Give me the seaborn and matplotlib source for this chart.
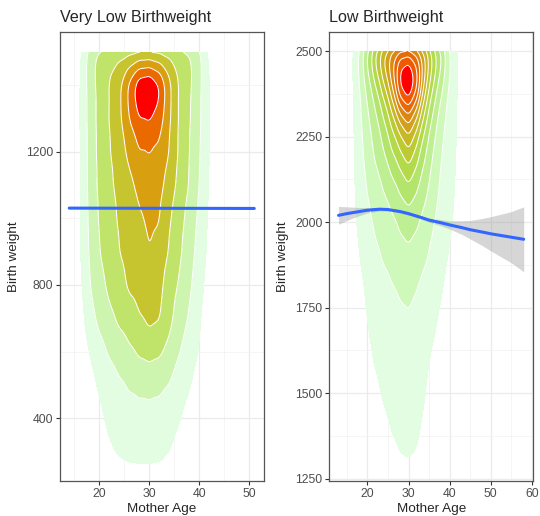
import numpy as np
import pandas as pd
import matplotlib
matplotlib.use("Agg")
import matplotlib.pyplot as plt
from matplotlib.colors import ListedColormap, BoundaryNorm
from matplotlib.ticker import MultipleLocator
import seaborn as sns
from seaborn._statistics import KDE

sns.set_theme(style="whitegrid")
plt.rcParams["font.family"] = ["Liberation Sans", "DejaVu Sans"]

# ---- very low birthweight: relative density (rows = weight, cols = age)
vlbw_age = [16, 18, 20, 22, 24, 26, 28, 30, 32, 34, 36, 38, 40, 42]
vlbw_weight = [300, 400, 500, 600, 700, 800, 900, 1000, 1100, 1200, 1300, 1400, 1500]
vlbw_density = [
    [0.0, 0.1, 0.45, 0.9, 1.3, 1.55, 1.65, 1.65, 1.55, 1.1, 0.65, 0.3, 0.1, 0.0],
    [0.0, 0.3, 0.8, 1.2, 1.45, 1.65, 1.7, 1.7, 1.65, 1.4, 1.05, 0.6, 0.2, 0.0],
    [0.1, 0.6, 1.1, 1.5, 1.8, 2.05, 2.15, 2.2, 2.15, 1.95, 1.5, 1.1, 0.5, 0.1],
    [0.2, 1.0, 1.6, 2.1, 2.5, 2.8, 3.2, 3.4, 3.2, 2.7, 2.0, 1.5, 1.0, 0.2],
    [0.4, 1.6, 2.3, 2.8, 3.2, 3.5, 3.9, 4.3, 4.2, 3.3, 2.6, 1.9, 1.1, 0.3],
    [0.6, 2.0, 2.7, 3.2, 3.7, 4.2, 4.4, 4.6, 4.3, 3.4, 2.9, 2.2, 1.4, 0.5],
    [0.8, 2.1, 3.0, 3.5, 4.0, 4.3, 4.7, 5.0, 4.8, 3.9, 3.2, 2.4, 1.7, 0.7],
    [0.8, 2.2, 3.1, 3.6, 4.1, 4.4, 4.8, 5.2, 5.1, 4.0, 3.4, 2.6, 1.8, 0.8],
    [0.8, 2.3, 3.2, 3.8, 4.3, 4.7, 5.3, 5.5, 5.3, 4.6, 3.7, 3.0, 2.0, 0.9],
    [0.8, 2.3, 3.3, 3.9, 4.5, 5.2, 5.9, 5.9, 5.8, 5.0, 3.8, 3.0, 2.1, 1.0],
    [0.8, 2.4, 3.3, 4.0, 4.7, 6.0, 6.9, 7.0, 6.5, 5.1, 3.8, 3.1, 2.2, 1.0],
    [0.8, 2.4, 3.3, 4.0, 4.8, 6.5, 8.5, 8.8, 7.7, 5.4, 3.8, 3.2, 2.2, 1.0],
    [0.6, 2.8, 3.6, 3.85, 3.85, 3.85, 3.9, 3.9, 3.85, 3.85, 3.7, 3.4, 2.6, 0.7],
]

# ---- low birthweight
lbw_age = [16, 18, 20, 22, 24, 26, 28, 30, 32, 34, 36, 38, 40, 42, 44]
lbw_weight = [1300, 1400, 1500, 1600, 1700, 1800, 1900, 2000, 2100, 2200, 2300, 2400, 2500]
lbw_density = [
    [0.0, 0.0, 0.0, 0.2, 0.5, 0.8, 1.05, 1.15, 1.0, 0.6, 0.2, 0.0, 0.0, 0.0, 0.0],
    [0.0, 0.0, 0.2, 0.5, 0.85, 1.05, 1.15, 1.2, 1.1, 0.9, 0.5, 0.2, 0.0, 0.0, 0.0],
    [0.0, 0.1, 0.5, 0.85, 1.1, 1.25, 1.35, 1.4, 1.3, 1.02, 0.6, 0.3, 0.1, 0.0, 0.0],
    [0.0, 0.3, 0.85, 1.1, 1.25, 1.4, 1.5, 1.6, 1.45, 1.2, 0.85, 0.5, 0.2, 0.0, 0.0],
    [0.0, 0.5, 1.02, 1.2, 1.4, 1.55, 1.7, 1.8, 1.6, 1.4, 1.15, 0.8, 0.4, 0.1, 0.0],
    [0.1, 0.7, 1.15, 1.4, 1.6, 1.85, 2.1, 2.3, 1.95, 1.6, 1.4, 1.05, 0.6, 0.2, 0.0],
    [0.2, 1.0, 1.4, 1.8, 2.15, 2.4, 2.65, 2.8, 2.55, 2.15, 1.75, 1.35, 0.9, 0.4, 0.0],
    [0.5, 1.25, 1.75, 2.2, 2.45, 2.7, 3.1, 3.4, 3.1, 2.6, 2.0, 1.6, 1.2, 0.7, 0.0],
    [0.6, 1.4, 2.05, 2.5, 3.0, 3.55, 4.1, 4.8, 4.05, 3.3, 2.6, 1.75, 1.3, 0.8, 0.1],
    [0.6, 1.55, 2.45, 3.2, 3.85, 4.8, 5.6, 6.8, 5.4, 4.0, 2.85, 1.95, 1.45, 0.9, 0.1],
    [0.6, 1.7, 2.75, 3.6, 4.7, 6.25, 7.85, 9.3, 7.4, 5.2, 3.6, 2.35, 1.5, 0.9, 0.1],
    [0.6, 1.85, 3.25, 4.7, 6.7, 8.9, 13.4, 14.4, 12.4, 7.4, 4.8, 3.15, 1.75, 0.95, 0.1],
    [0.7, 2.4, 4.9, 7.4, 9.5, 11.0, 11.6, 11.8, 10.8, 9.3, 6.7, 4.9, 2.3, 1.1, 0.1],
]

# ---- smoothers
vlbw_fit_age = [14, 51]
vlbw_fit = [1031, 1030]

lbw_fit_age = [13, 15, 18, 20, 23, 25, 28, 30, 33, 35, 38, 40, 43, 45, 48, 50, 53, 55, 58]
lbw_fit = [2020, 2025, 2031, 2035, 2038, 2037, 2031, 2025, 2014, 2006, 1998, 1992,
           1984, 1978, 1971, 1966, 1960, 1956, 1950]
lbw_fit_lo = [1994, 2005, 2019, 2027, 2033, 2033, 2027, 2021, 2009, 2000, 1989, 1980,
              1964, 1951, 1931, 1916, 1895, 1881, 1855]
lbw_fit_hi = [2046, 2045, 2043, 2043, 2043, 2041, 2035, 2029, 2019, 2012, 2007, 2004,
              2004, 2005, 2011, 2016, 2025, 2031, 2045]

vlbw_colors = ["#e3fde3", "#cdf5b0", "#c0e46a", "#c7c52f", "#d8a010", "#ea6a00", "#ff0000"]
lbw_colors = ["#e3fde3", "#cff8bb", "#bef093", "#b3e56c", "#b2da4a", "#bccb32",
              "#c7b826", "#d2a01a", "#dc870f", "#e66a06", "#f25800", "#ff0000"]


def long_table(ages, weights, dens):
    rows = []
    for w, row in zip(weights, dens):
        for a, d in zip(ages, row):
            rows.append((a, w, d))
    return pd.DataFrame(rows, columns=["age", "bwt", "n"])


def height_levels(df, bw, clip, cell, n):
    # contour heights at 1, 2, ... table units (like ggplot bins) -> seaborn iso-proportions
    kde = KDE(bw_method=bw, clip=clip)
    dens, _ = kde(df["age"].to_numpy(float), df["bwt"].to_numpy(float),
                  weights=df["n"].to_numpy(float))
    vals = dens.ravel()
    unit = min(1.0 / (df["n"].sum() * cell), vals.max() / (n + 0.45))
    heights = [k * unit for k in range(1, n + 1)]
    props = [vals[vals < h].sum() / vals.sum() for h in heights]
    return props + [1.0], heights + [vals.max() * 1.01]


def density_panel(ax, df, colors, bw, clip, cell):
    lv, hs = height_levels(df, bw, clip, cell, len(colors))
    norm = BoundaryNorm(hs, len(colors))
    sns.kdeplot(data=df, x="age", y="bwt", weights="n", fill=True, levels=lv,
                cmap=ListedColormap(colors), norm=norm, bw_method=bw, clip=clip, ax=ax)
    sns.kdeplot(data=df, x="age", y="bwt", weights="n", levels=lv[1:-1],
                color="white", linewidths=0.75, bw_method=bw, clip=clip, ax=ax)


def style(ax, title, xlim, ylim, yticks, ystep):
    ax.set_xlim(*xlim)
    ax.set_ylim(*ylim)
    ax.set_yticks(yticks)
    ax.xaxis.set_major_locator(MultipleLocator(10))
    ax.xaxis.set_minor_locator(MultipleLocator(5))
    ax.yaxis.set_minor_locator(MultipleLocator(ystep / 2))
    ax.set_axisbelow(True)
    ax.grid(which="major", color="#ebebeb", linewidth=0.9)
    ax.grid(which="minor", color="#f2f2f2", linewidth=0.5)
    ax.tick_params(which="minor", length=0)
    ax.tick_params(which="major", length=3, width=0.8, color="#333333",
                   labelsize=8.8, labelcolor="#4d4d4d", pad=2,
                   bottom=True, left=True)
    for s in ax.spines.values():
        s.set_color("#555555")
        s.set_linewidth(0.9)
    ax.set_title(title, loc="left", fontsize=11.6, pad=7)
    ax.set_xlabel("Mother Age", fontsize=9.7, labelpad=2)
    ax.set_ylabel("Birth weight", fontsize=9.7, labelpad=4)


fig = plt.figure(figsize=(5.4, 5.16), dpi=100)
ax1 = fig.add_axes([0.1111, 0.0678, 0.3769, 0.8707])
ax2 = fig.add_axes([0.6098, 0.0678, 0.3772, 0.8707])

vlbw = long_table(vlbw_age, vlbw_weight, vlbw_density)
density_panel(ax1, vlbw, vlbw_colors, 0.18, ((None, None), (None, 1500)), 2 * 100)
sns.lineplot(x=vlbw_fit_age, y=vlbw_fit, color="#3366FF", linewidth=2.2, ax=ax1)
style(ax1, "Very Low Birthweight", (12.15, 52.85), (211, 1561), [400, 800, 1200], 400)

lbw = long_table(lbw_age, lbw_weight, lbw_density)
density_panel(ax2, lbw, lbw_colors, 0.2, ((None, None), (None, 2500)), 2 * 100)
ax2.fill_between(lbw_fit_age, lbw_fit_lo, lbw_fit_hi, color="#999999", alpha=0.4, linewidth=0)
sns.lineplot(x=lbw_fit_age, y=lbw_fit, color="#3366FF", linewidth=2.2, ax=ax2)
style(ax2, "Low Birthweight", (10.75, 60.25), (1243, 2557),
      [1250, 1500, 1750, 2000, 2250, 2500], 250)

fig.savefig("out.png", dpi=100)
